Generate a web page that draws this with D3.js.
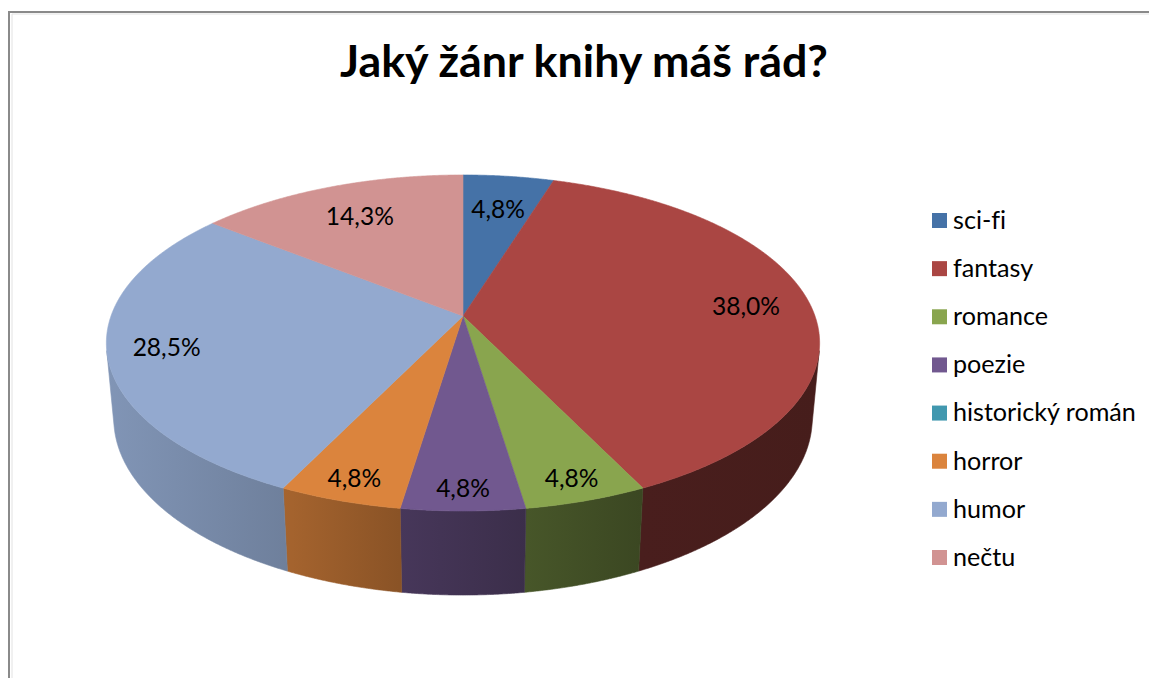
<!DOCTYPE html>
<html>
<head>
<meta charset="utf-8">
<script src="https://cdn.jsdelivr.net/npm/d3@7"></script>
<style>
    html, body { margin: 0; padding: 0; background: #fff; }
    svg { display: block; }
    text { font-family: Lato, "Open Sans", sans-serif; fill: #000; font-variant-ligatures: none; }
</style>
</head>
<body>
<div id="chart"></div>
<script>
// data
const genres = ["sci-fi", "fantasy", "romance", "poezie", "historický román", "horror", "humor", "nečtu"]
const shares = [4.8, 38.0, 4.8, 4.8, 0, 4.8, 28.5, 14.3]
const colors = ["#4572A7", "#AA4643", "#89A54E", "#71588F", "#4198AF", "#DB843D", "#93A9CF", "#D19392"]
const title = "Jaký žánr knihy máš rád?"

const width = 1149, height = 678

const svg = d3.select("#chart").append("svg")
    .attr("width", width)
    .attr("height", height)

// frame of the chart area (only top and left edges are inside the picture)
svg.append("path")
    .attr("d", `M10,${height} V12 H${width}`)
    .attr("fill", "none")
    .attr("stroke", "#e2e2e2")
    .attr("stroke-width", 1)
    .attr("transform", "translate(2,2)")
svg.append("path")
    .attr("d", `M9,${height} V12 H${width}`)
    .attr("fill", "none")
    .attr("stroke", "#8a8a8a")
    .attr("stroke-width", 2)

/*----- 3D projection of the pie -----*/
const cx = 463, cy = 316        // centre of the top face on screen
const focal = 1939.5, dist = 5.51
const cosE = 0.885, sinE = 0.465 // tilt of the pie
const thick = 0.245              // height of the pie (radius = 1)

function project(x, d, h) {
    const sy = d * sinE - h * cosE
    const zc = dist - d * cosE - h * sinE
    return [cx + focal * x / zc, cy + focal * sy / zc]
}
// angle clockwise from the back of the pie, r relative radius
function onCircle(theta, r, h) {
    return project(r * Math.sin(theta), -r * Math.cos(theta), h)
}

const pie = d3.pie().sort(null).value(d => d)
const arcs = pie(shares).map((a, i) => ({ ...a, name: genres[i], color: colors[i] }))

const line = d3.line()
const step = Math.PI / 720

function arcPoints(a0, a1, h) {
    const n = Math.max(2, Math.ceil((a1 - a0) / step))
    return d3.range(n + 1).map(k => onCircle(a0 + (a1 - a0) * k / n, 1, h))
}

// side walls: only the part facing the camera
const frontFrom = Math.acos(-1 / (dist * cosE))
const frontTo = 2 * Math.PI - frontFrom

const defs = svg.append("defs")
const shadeStops = [[0, 0.88], [0.26, 0.75], [0.41, 0.63], [0.59, 0.52], [0.75, 0.43], [1, 0.41]]
const leftX = onCircle(frontTo, 1, 0)[0], rightX = onCircle(frontFrom, 1, 0)[0]

arcs.forEach((a, i) => {
    const grad = defs.append("linearGradient")
        .attr("id", "side-" + i)
        .attr("gradientUnits", "userSpaceOnUse")
        .attr("x1", leftX).attr("x2", rightX)
        .attr("y1", 0).attr("y2", 0)
    const base = d3.rgb(a.color)
    shadeStops.forEach(([off, f]) => {
        grad.append("stop")
            .attr("offset", off)
            .attr("stop-color", d3.rgb(base.r * f, base.g * f, base.b * f).formatHex())
    })
})

const sides = svg.append("g").attr("class", "sides")
arcs.forEach((a, i) => {
    const a0 = Math.max(a.startAngle, frontFrom)
    const a1 = Math.min(a.endAngle, frontTo)
    if (a1 <= a0) return
    const top = arcPoints(a0, a1, 0)
    const bottom = arcPoints(a0, a1, -thick).reverse()
    sides.append("path")
        .attr("d", line(top.concat(bottom)) + "Z")
        .attr("fill", `url(#side-${i})`)
        .attr("stroke", `url(#side-${i})`)
        .attr("stroke-width", 0.6)
})

// top faces
const tops = svg.append("g").attr("class", "tops")
arcs.forEach(a => {
    if (a.endAngle - a.startAngle <= 0) return
    const pts = [project(0, 0, 0)].concat(arcPoints(a.startAngle, a.endAngle, 0))
    tops.append("path")
        .attr("d", line(pts) + "Z")
        .attr("fill", a.color)
        .attr("stroke", a.color)
        .attr("stroke-width", 0.6)
        .attr("stroke-linejoin", "round")
})

// fit a font size so a text reaches a given width
function fitSize(str, weight, target) {
    const probe = svg.append("text")
        .attr("font-size", 40)
        .attr("font-weight", weight)
        .text(str)
    const w = probe.node().getComputedTextLength()
    probe.remove()
    return 40 * target / w
}

// percentage labels
const fmt = v => d3.format(".1f")(v).replace(".", ",") + "%"
const labelSize = fitSize("38,0%", 400, 68)
svg.append("g").selectAll("text")
    .data(arcs.filter(a => a.value > 0))
    .join("text")
    .each(function (a) {
        const mid = (a.startAngle + a.endAngle) / 2
        const r = 0.82 - 0.08 * Math.cos(mid)
        const [x, y] = onCircle(mid, r, 0)
        d3.select(this).attr("x", x).attr("y", y)
    })
    .attr("dy", "0.36em")
    .attr("text-anchor", "middle")
    .attr("font-size", labelSize)
    .text(a => fmt(a.value))

// title
svg.append("text")
    .attr("x", 584)
    .attr("y", 77)
    .attr("text-anchor", "middle")
    .attr("font-weight", 700)
    .attr("font-size", fitSize(title, 700, 488))
    .text(title)

// legend
const legendSize = fitSize("historický román", 400, 183)
const legendY = d3.scalePoint().domain(genres).range([220.5, 557.5])
const legend = svg.append("g").selectAll("g")
    .data(genres)
    .join("g")
    .attr("transform", d => `translate(932,${legendY(d)})`)
legend.append("rect")
    .attr("x", 0).attr("y", -7.5)
    .attr("width", 15).attr("height", 15)
    .attr("fill", (d, i) => colors[i])
legend.append("text")
    .attr("x", 21)
    .attr("y", 0)
    .attr("dy", "0.33em")
    .attr("font-size", legendSize)
    .text(d => d)
</script>
</body>
</html>
